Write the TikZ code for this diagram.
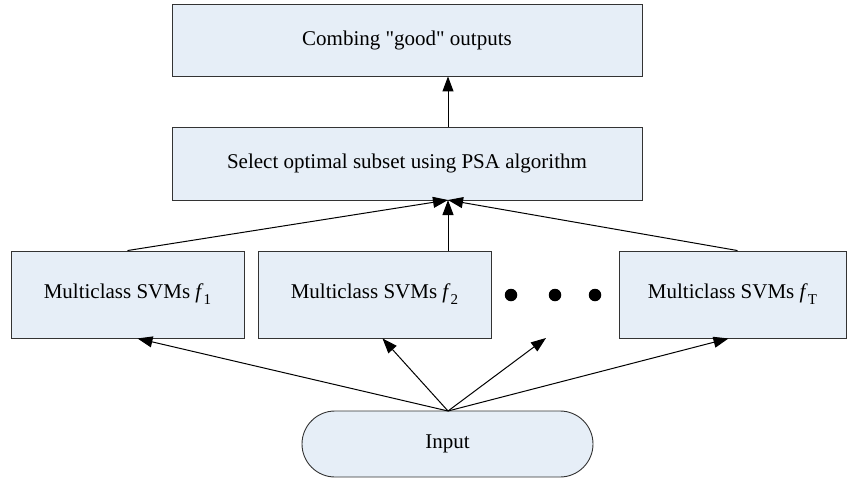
\documentclass[tikz,border=0pt]{standalone}
\usepackage{fontspec}
\setmainfont{Liberation Serif}
\usetikzlibrary{arrows.meta,shapes.misc,calc}
\newcommand{\subidx}[1]{\raisebox{-0.28em}{\fontsize{15}{15}\selectfont #1}}
\begin{document}
\begin{tikzpicture}[x=1pt,y=-1pt,
  box/.style={draw=black!80,line width=0.9pt,fill=boxfill,inner sep=0pt,font=\fontsize{21}{24}\selectfont},
  conn/.style={line width=1pt,-{Triangle[length=15pt,width=11pt]}},
  dotc/.style={circle,fill=black,inner sep=0pt,minimum size=12.5pt}]
\definecolor{boxfill}{HTML}{E6EEF7}
\useasboundingbox (0,0) rectangle (848,479);
\node[box,minimum width=470pt,minimum height=72pt] (top) at (407,40) {Combing \textquotedbl good\textquotedbl{} outputs};
\node[box,minimum width=470pt,minimum height=73pt] (sel) at (407,163.5) {Select optimal subset using PSA algorithm};
\node[box,minimum width=233pt,minimum height=87pt] (f1) at (127.5,294.5) {Multiclass SVMs \textit{f}\subidx{1}};
\node[box,minimum width=233pt,minimum height=87pt] (f2) at (374.5,294.5) {Multiclass SVMs \textit{f}\subidx{2}};
\node[box,minimum width=227pt,minimum height=87pt] (fT) at (732.5,294.5) {Multiclass SVMs \textit{f}\subidx{T}};
\node[box,rounded rectangle,minimum width=291pt,minimum height=66pt] (in) at (447.5,444) {Input};
\node[dotc] (d1) at (511,295) {};
\node[dotc] (d2) at (555,295) {};
\node[dotc] (d3) at (595,295) {};
\coordinate (selin) at (448,200);
\coordinate (inp) at (448,411);
\coordinate (free) at (546,338);
\draw[conn] (sel.north -| selin) -- (top.south -| selin);
\draw[conn] (f1.north) -- (selin);
\draw[conn] (f2.north -| selin) -- (selin);
\draw[conn] ($(fT.north)+(5,0)$) -- (selin);
\draw[conn] (inp) -- ($(f1.south)+(10,0)$);
\draw[conn] (inp) -- ($(f2.south)+(8,0)$);
\draw[conn] (inp) -- (free);
\draw[conn] (inp) -- ($(fT.south)+(-4,0)$);
\end{tikzpicture}
\end{document}
